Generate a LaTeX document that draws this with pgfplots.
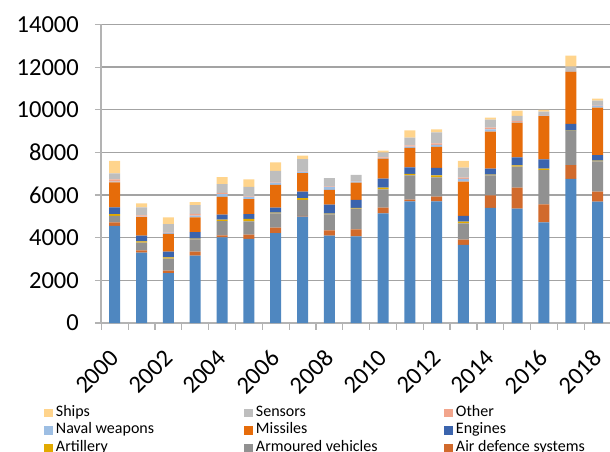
\documentclass[border=0pt]{standalone}
\usepackage{fontspec}
\setmainfont{Carlito}
\usepackage{pgfplots}
\pgfplotsset{compat=1.18}
\usepackage{pgfplotstable}

\definecolor{cAir}{HTML}{4F87C0}
\definecolor{cAD}{HTML}{D16A2C}
\definecolor{cAV}{HTML}{919191}
\definecolor{cArt}{HTML}{E2AA00}
\definecolor{cEng}{HTML}{3B64AD}
\definecolor{cMis}{HTML}{E66C0A}
\definecolor{cNav}{HTML}{9DBEE3}
\definecolor{cOth}{HTML}{F2A58C}
\definecolor{cSen}{HTML}{BEBEBE}
\definecolor{cShp}{HTML}{FFD48C}
\definecolor{gridc}{HTML}{A3A3A3}
\definecolor{axisc}{HTML}{B3B3B3}

% Arms transfers by weapon category, 2000-2018 (x = year - 2000)
\pgfplotstableread{
yr  air  ad   av   art eng mis  nav oth sen shp
0   4560 160  310  80  315 1175 30  110 280 580
1   3300 110  360  60  265 865  30  60  375 190
2   2345 110  560  65  265 830  60  30  370 320
3   3160 185  580  35  300 690  90  80  410 140
4   4020 95   660  75  235 830  125 60  410 330
5   3940 200  630  110 230 705  95  30  440 360
6   4220 250  670  40  235 1060 110 30  520 400
7   4985 40   750  80  310 860  80  20  560 170
8   4095 255  750  25  425 690  150 20  390 0
9   4065 330  965  35  375 810  65  20  280 0
10  5145 265  860  75  425 935  30  30  220 95
11  5705 80   1140 65  310 910  60  65  355 345
12  5705 220  910  90  345 985  95  80  515 140
13  3660 245  770  75  270 1605 130 60  470 315
14  5395 595  935  30  280 1735 115 75  375 95
15  5365 985  980  65  375 1625 30  50  245 235
16  4720 845  1610 60  440 2045 20  20  150 80
17  6755 655  1595 20  310 2455 20  20  195 510
18  5690 470  1425 25  260 2235 90  25  210 95
}\armsdata

\pgfplotsset{
  sq legend/.style={legend image code/.code={\fill[##1,draw=none] (0bp,-4.25bp) rectangle (9bp,4.25bp);}},
}
\newcommand{\lent}[1]{\makebox[187.6bp][l]{#1}}

\begin{document}
\begin{tikzpicture}
\path[use as bounding box] (-101.3bp,-129bp) rectangle (508.7bp,323bp);
\begin{axis}[
  at={(0,0)}, anchor=south west,
  scale only axis, width=508.4bp, height=298.5bp,
  ybar stacked, bar width=11bp,
  xmin=-0.5, xmax=18.45, ymin=0, ymax=14000,
  axis x line*=bottom, axis y line*=left,
  axis line style={draw=axisc, line width=1.6bp},
  ymajorgrids, grid style={draw=gridc, line width=1.3bp},
  tick align=outside,
  tick style={draw=axisc, line width=1.2bp},
  major tick length=0pt, minor tick length=6.5bp,
  xtick={0,2,...,18},
  xticklabels={2000,2002,2004,2006,2008,2010,2012,2014,2016,2018},
  minor xtick={-0.5,0.5,...,18.5},
  xticklabel style={yshift=-31bp, rotate=45, anchor=east, inner sep=0pt},
  ytick={0,2000,...,14000},
  minor ytick={0,2000,...,14000},
  scaled y ticks=false,
  yticklabel style={xshift=-19bp},
  ticklabel style={font=\fontsize{24.5bp}{28bp}\selectfont, text=black},
  /pgf/number format/.cd, set thousands separator={}, assume math mode=true,
  /pgfplots/.cd,
  legend columns=3, reverse legend, legend cell align=left,
  legend style={at={(0,0)}, anchor=north west, xshift=-57.7bp, yshift=-81bp,
    draw=none, fill=none, inner sep=0pt, outer sep=0pt,
    font=\fontsize{16bp}{19bp}\selectfont, row sep=0pt,
    nodes={inner sep=0pt, text height=12bp, text depth=5.5bp},
    /tikz/every odd column/.style={column sep=3.4bp},
    /tikz/every even column/.style={column sep=0pt}},
]
\addplot[fill=cAir, draw=none, forget plot] table[x=yr, y=air] {\armsdata};
\addplot[fill=cAD,  draw=none, sq legend] table[x=yr, y=ad]  {\armsdata};
\addlegendentry{\lent{Air defence systems}}
\addplot[fill=cAV,  draw=none, sq legend] table[x=yr, y=av]  {\armsdata};
\addlegendentry{\lent{Armoured vehicles}}
\addplot[fill=cArt, draw=none, sq legend] table[x=yr, y=art] {\armsdata};
\addlegendentry{\lent{Artillery}}
\addplot[fill=cEng, draw=none, sq legend] table[x=yr, y=eng] {\armsdata};
\addlegendentry{\lent{Engines}}
\addplot[fill=cMis, draw=none, sq legend] table[x=yr, y=mis] {\armsdata};
\addlegendentry{\lent{Missiles}}
\addplot[fill=cNav, draw=none, sq legend] table[x=yr, y=nav] {\armsdata};
\addlegendentry{\lent{Naval weapons}}
\addplot[fill=cOth, draw=none, sq legend] table[x=yr, y=oth] {\armsdata};
\addlegendentry{\lent{Other}}
\addplot[fill=cSen, draw=none, sq legend] table[x=yr, y=sen] {\armsdata};
\addlegendentry{\lent{Sensors}}
\addplot[fill=cShp, draw=none, sq legend] table[x=yr, y=shp] {\armsdata};
\addlegendentry{\lent{Ships}}
\end{axis}
\end{tikzpicture}
\end{document}
